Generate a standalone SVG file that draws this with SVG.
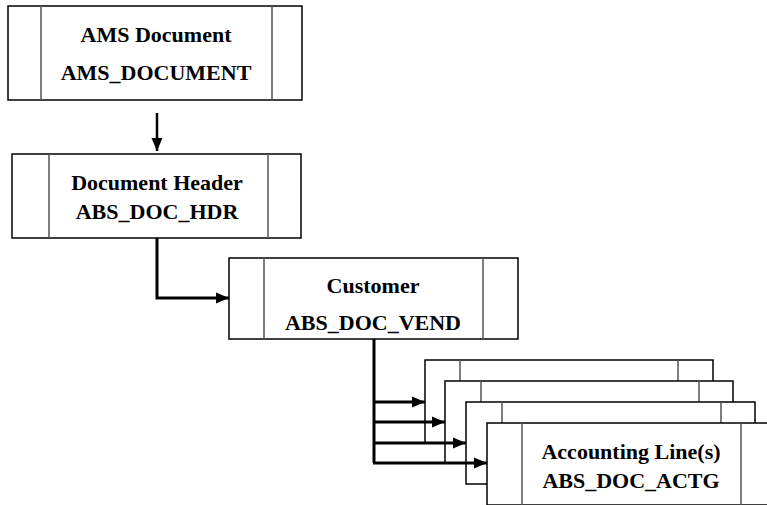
<svg xmlns="http://www.w3.org/2000/svg" width="767" height="505" viewBox="0 0 767 505">
<defs>
<style>
.box{fill:#fff;stroke:#000;stroke-width:1.5}
.inner{stroke:#555;stroke-width:1.5;fill:none}
.t{font-weight:bold;font-size:22px;fill:#000;text-anchor:middle}
.c{fill:none;stroke:#000;stroke-width:3}
</style>
<marker id="ah" markerUnits="userSpaceOnUse" markerWidth="14" markerHeight="14" viewBox="0 0 14 14" refX="13" refY="7" orient="auto">
<path d="M0,1.5 L13,7 L0,12.5 Z" fill="#000"/>
</marker>
</defs>
<rect width="767" height="505" fill="#fff"/>
<g font-family="'Liberation Serif', 'Times New Roman', Times, serif">
<g id="n1">
<rect class="box" x="8" y="6" width="294" height="94"/>
<line class="inner" x1="41" y1="6" x2="41" y2="100"/>
<line class="inner" x1="272" y1="6" x2="272" y2="100"/>
<text class="t" x="156" y="42">AMS Document</text>
<text class="t" x="156" y="80">AMS_DOCUMENT</text>
</g>
<g id="n2">
<rect class="box" x="12" y="154" width="289" height="84"/>
<line class="inner" x1="49" y1="154" x2="49" y2="238"/>
<line class="inner" x1="268" y1="154" x2="268" y2="238"/>
<text class="t" x="157" y="190">Document Header</text>
<text class="t" x="157" y="219">ABS_DOC_HDR</text>
</g>
<g id="n3">
<rect class="box" x="229" y="258" width="289" height="81"/>
<line class="inner" x1="264" y1="258" x2="264" y2="339"/>
<line class="inner" x1="483" y1="258" x2="483" y2="339"/>
<text class="t" x="373" y="293">Customer</text>
<text class="t" x="373" y="330">ABS_DOC_VEND</text>
</g>
<g id="n4a">
<rect class="box" x="425" y="360" width="288" height="83"/>
<line class="inner" x1="460" y1="360" x2="460" y2="443"/>
<line class="inner" x1="678" y1="360" x2="678" y2="443"/>
</g>
<g id="n4b">
<rect class="box" x="445" y="381" width="288" height="82"/>
<line class="inner" x1="481" y1="381" x2="481" y2="463"/>
<line class="inner" x1="699" y1="381" x2="699" y2="463"/>
</g>
<g id="n4c">
<rect class="box" x="466" y="402" width="289" height="82"/>
<line class="inner" x1="502" y1="402" x2="502" y2="484"/>
<line class="inner" x1="721" y1="402" x2="721" y2="484"/>
</g>
<g id="n4d">
<rect class="box" x="487" y="423" width="290" height="82"/>
<line class="inner" x1="522" y1="423" x2="522" y2="505"/>
<line class="inner" x1="741" y1="423" x2="741" y2="505"/>
<text class="t" x="631" y="459">Accounting Line(s)</text>
<text class="t" x="631" y="488">ABS_DOC_ACTG</text>
</g>
</g>
<g id="connectors">
<path class="c" style="stroke-width:2.5" d="M157,113 V151" marker-end="url(#ah)"/>
<path class="c" d="M157,238 V298 H229" marker-end="url(#ah)"/>
<path class="c" d="M374,339 V463"/>
<path class="c" d="M373,402 H425" marker-end="url(#ah)"/>
<path class="c" d="M373,422 H445" marker-end="url(#ah)"/>
<path class="c" d="M373,443 H466" marker-end="url(#ah)"/>
<path class="c" d="M373,463 H487" marker-end="url(#ah)"/>
</g>
</svg>
